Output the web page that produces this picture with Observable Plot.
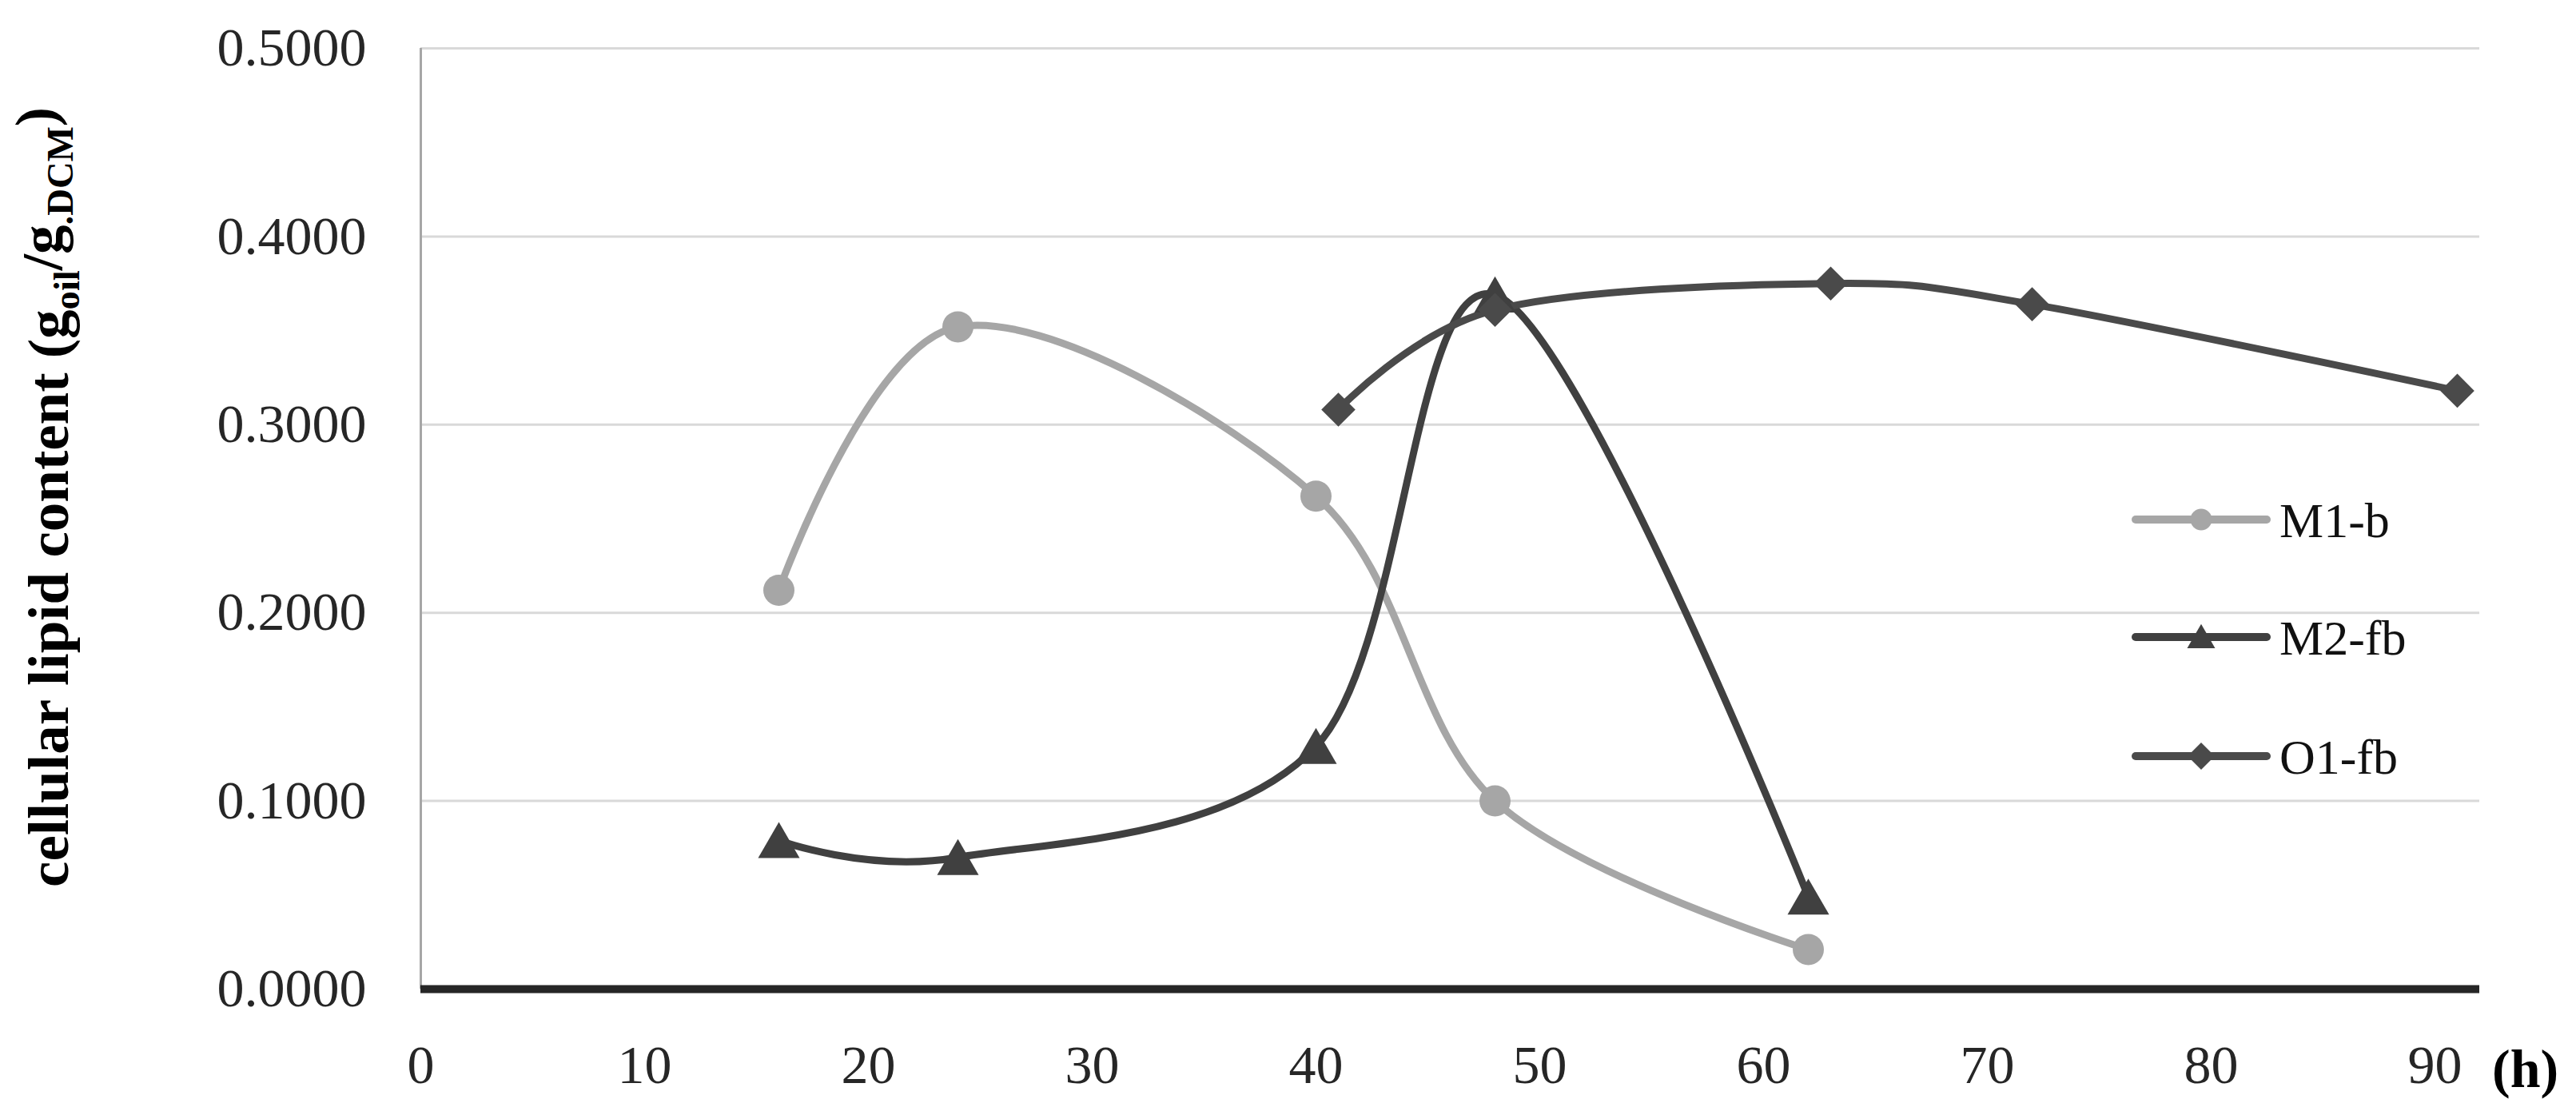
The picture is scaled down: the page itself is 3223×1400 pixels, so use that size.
<!DOCTYPE html>
<html>
<head>
<meta charset="utf-8">
<script src="https://cdn.jsdelivr.net/npm/d3@7"></script>
<script src="https://cdn.jsdelivr.net/npm/@observablehq/plot@0.6"></script>
<style>
  html, body { margin: 0; padding: 0; background: #fff; }
  #chart { width: 3223px; height: 1400px; }
</style>
</head>
<body>
<div id="chart"></div>
<script>
// ---- data ----
const seriesNames = ["M1-b", "M2-fb", "O1-fb"];
const hoursM1 = [16, 24, 40, 48, 62];
const lipidM1 = [0.212, 0.352, 0.262, 0.100, 0.021];
const hoursM2 = [16, 24, 40, 48, 62];
const lipidM2 = [0.079, 0.070, 0.129, 0.369, 0.049];
const hoursO1 = [41, 48, 63, 72, 91];
const lipidO1 = [0.308, 0.361, 0.375, 0.364, 0.318];
const xTicks = [0, 10, 20, 30, 40, 50, 60, 70, 80, 90];
const yTicks = [0, 0.1, 0.2, 0.3, 0.4, 0.5];
const yTitle = "cellular lipid content (g";
const xUnit = "(h)";

// ---- styling ----
const colors = {"M1-b": "#a6a6a6", "M2-fb": "#404040", "O1-fb": "#4a4a4a"};
const serif = "'Liberation Serif', 'Times New Roman', serif";

const rows = (name, xs, ys) => xs.map((h, i) => ({series: name, hour: h, lipid: ys[i]}));
const dataM1 = rows("M1-b", hoursM1, lipidM1);
const dataM2 = rows("M2-fb", hoursM2, lipidM2);
const dataO1 = rows("O1-fb", hoursO1, lipidO1);

// square diamond (rotated square), as Excel draws it
const diamondSq = {
  draw(ctx, size) {
    const r = Math.sqrt(size / 2);
    ctx.moveTo(0, -r); ctx.lineTo(r, 0); ctx.lineTo(0, r); ctx.lineTo(-r, 0); ctx.closePath();
  }
};

const lineOpts = (name) => ({
  x: "hour", y: "lipid", stroke: colors[name], strokeWidth: 9,
  curve: "cardinal", strokeLinecap: "round", strokeLinejoin: "round"
});

const chart = Plot.plot({
  width: 3223,
  height: 1400,
  marginLeft: 526,
  marginRight: 121,
  marginTop: 60,
  marginBottom: 163,
  x: {domain: [0, 92]},
  y: {domain: [0, 0.5]},
  style: {fontFamily: serif, fontSize: "68px", color: "#262626", background: "white"},
  marks: [
    Plot.gridY(yTicks.slice(1), {stroke: "#d9d9d9", strokeWidth: 3, strokeOpacity: 1}),
    Plot.ruleX([0], {stroke: "#a6a6a6", strokeWidth: 3}),
    Plot.axisY(yTicks, {tickSize: 0, tickPadding: 68, tickFormat: d3.format(".4f"), label: null}),
    Plot.axisX(xTicks, {tickSize: 0, tickPadding: 69, label: null}),
    Plot.ruleY([0], {stroke: "#262626", strokeWidth: 10}),
    Plot.line(dataM1, lineOpts("M1-b")),
    Plot.line(dataM2, lineOpts("M2-fb")),
    Plot.line(dataO1, lineOpts("O1-fb")),
    Plot.dot(dataM1, {x: "hour", y: "lipid", r: 19.5, fill: colors["M1-b"], symbol: "circle"}),
    Plot.dot(dataM2, {x: "hour", y: "lipid", r: 19.3, fill: colors["M2-fb"], symbol: "triangle", dy: 7}),
    Plot.dot(dataO1, {x: "hour", y: "lipid", r: 17, fill: colors["O1-fb"], symbol: diamondSq})
  ]
});

document.getElementById("chart").appendChild(chart);

// ---- extra text: y title, x unit, legend ----
const svg = d3.select(chart);

const title = svg.append("text")
  .attr("transform", "translate(85,622) rotate(-90)")
  .attr("text-anchor", "middle")
  .attr("font-family", serif)
  .attr("font-weight", "bold")
  .attr("font-size", 72)
  .attr("fill", "#000")
  .attr("textLength", 976)
  .attr("lengthAdjust", "spacingAndGlyphs");
title.append("tspan").text(yTitle);
title.append("tspan").attr("font-size", 46).attr("dy", "0.3em").text("oil");
title.append("tspan").attr("dy", "-0.3em").text("/g");
title.append("tspan").attr("font-size", 46).attr("dy", "0.3em").text(".DCM");
title.append("tspan").attr("dy", "-0.3em").text(")");

svg.append("text")
  .attr("x", 3118).attr("y", 1360)
  .attr("text-anchor", "start")
  .attr("font-family", serif)
  .attr("font-weight", "bold")
  .attr("font-size", 68)
  .attr("fill", "#000")
  .text(xUnit);

// legend
const legendY = [650, 797, 946];
const legendSymbols = {
  "M1-b": d3.symbol(d3.symbolCircle, Math.PI * 13.5 * 13.5)(),
  "M2-fb": d3.symbol(d3.symbolTriangle, 530)(),
  "O1-fb": "M0,-17L17,0L0,17L-17,0Z"
};
const lg = svg.append("g");
seriesNames.forEach((name, i) => {
  const g = lg.append("g").attr("transform", `translate(0,${legendY[i]})`);
  g.append("line")
    .attr("x1", 2672).attr("x2", 2836).attr("y1", 0).attr("y2", 0)
    .attr("stroke", colors[name]).attr("stroke-width", 10).attr("stroke-linecap", "round");
  g.append("path")
    .attr("d", legendSymbols[name])
    .attr("transform", `translate(2754,${name === "M2-fb" ? 4 : 0})`)
    .attr("fill", colors[name]);
  g.append("text")
    .attr("x", 2852).attr("y", 0).attr("dy", "0.35em")
    .attr("text-anchor", "start")
    .attr("font-family", serif).attr("font-size", 62).attr("fill", "#111")
    .text(name);
});
</script>
</body>
</html>
